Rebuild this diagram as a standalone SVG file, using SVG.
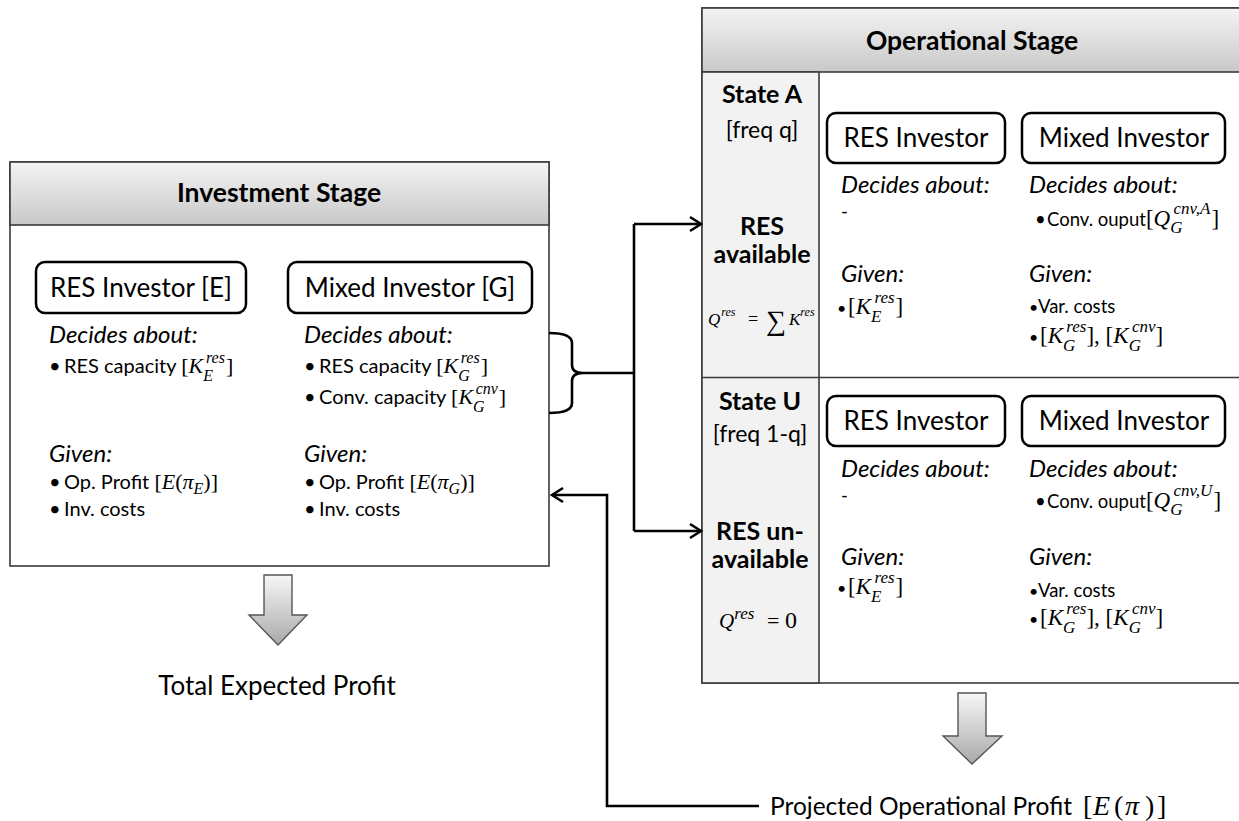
<svg xmlns="http://www.w3.org/2000/svg" width="1239" height="821" viewBox="0 0 1239 821">
<defs>
<linearGradient id="hdr" x1="0" y1="0" x2="0" y2="1">
<stop offset="0" stop-color="#f4f4f4"/><stop offset="1" stop-color="#c8c8c8"/>
</linearGradient>
<linearGradient id="blk" x1="0" y1="0" x2="0" y2="1">
<stop offset="0" stop-color="#f7f7f7"/><stop offset="1" stop-color="#a9a9a9"/>
</linearGradient>
<marker id="ah" viewBox="-13 -9 15 18" refX="0" refY="0" markerWidth="15" markerHeight="18" orient="auto" markerUnits="userSpaceOnUse">
<path d="M-11,-7 L0,0 L-11,7" fill="none" stroke="#000" stroke-width="2.6"/>
</marker>
<style>
text{font-family:Lato,"Liberation Sans",sans-serif;fill:#000}
.h{font-size:26.5px;font-weight:bold;text-anchor:middle}
.inv{font-size:26px;text-anchor:middle}
.it{font-size:24px;font-style:italic}
.b{font-size:20px}
.bo{font-size:18.5px}
.bd{font-size:16px}
.sb{font-size:25px;font-weight:bold;text-anchor:middle}
.fr{font-size:23px;text-anchor:middle}
.m{font-family:"Liberation Serif","DejaVu Serif",serif;font-style:italic;font-size:22px}
.mu{font-family:"Liberation Serif","DejaVu Serif",serif;font-style:normal;font-size:22px}
.ms{font-family:"Liberation Serif","DejaVu Serif",serif;font-style:italic;font-size:16px}
.m2{font-family:"Liberation Serif","DejaVu Serif",serif;font-style:italic;font-size:23px}
.mu2{font-family:"Liberation Serif","DejaVu Serif",serif;font-style:normal;font-size:23px}
.ms2{font-family:"Liberation Serif","DejaVu Serif",serif;font-style:italic;font-size:17px}
.lab{font-size:26px}
.frame{fill:#fff;stroke:#3a3a3a;stroke-width:1.6}
.head{fill:url(#hdr);stroke:#3a3a3a;stroke-width:1.6}
.node{fill:#fff;stroke:#000;stroke-width:2.5}
.conn{fill:none;stroke:#000;stroke-width:2.6}
.barrow{fill:url(#blk);stroke:#555;stroke-width:1.4}
</style>
</defs>

<g id="investment-stage">
<rect class="frame" x="10" y="162" width="539" height="404"/>
<rect class="head" x="10" y="162" width="539" height="63"/>
<text class="h" x="279" y="202">Investment Stage</text>
</g>

<g id="inv-res-investor">
<rect class="node" x="36" y="262" width="210" height="51" rx="9"/>
<text class="inv" x="141" y="297">RES Investor [E]</text>
<text class="it" x="49" y="343">Decides about:</text>
<text class="b" y="373"><tspan x="49">•</tspan><tspan x="64">RES capacity </tspan><tspan class="mu">[</tspan><tspan class="m">K</tspan><tspan class="ms" dy="8">E</tspan><tspan class="ms" dx="-7" dy="-18">res</tspan><tspan class="mu" dx="1" dy="10">]</tspan></text>
<text class="it" x="49" y="462">Given:</text>
<text class="b" y="489"><tspan x="49">•</tspan><tspan x="64">Op. Profit </tspan><tspan class="mu">[</tspan><tspan class="m">E</tspan><tspan class="mu">(</tspan><tspan class="m">π</tspan><tspan class="ms" dy="5">E</tspan><tspan class="mu" dy="-5">)]</tspan></text>
<text class="b" y="516"><tspan x="49">•</tspan><tspan x="64">Inv. costs</tspan></text>
</g>

<g id="inv-mixed-investor">
<rect class="node" x="288" y="262" width="244" height="51" rx="9"/>
<text class="inv" x="410" y="297">Mixed Investor [G]</text>
<text class="it" x="304" y="343">Decides about:</text>
<text class="b" y="373"><tspan x="304">•</tspan><tspan x="319">RES capacity </tspan><tspan class="mu">[</tspan><tspan class="m">K</tspan><tspan class="ms" dy="8">G</tspan><tspan class="ms" dx="-9" dy="-18">res</tspan><tspan class="mu" dx="1" dy="10">]</tspan></text>
<text class="b" y="404"><tspan x="304">•</tspan><tspan x="319">Conv. capacity </tspan><tspan class="mu">[</tspan><tspan class="m">K</tspan><tspan class="ms" dy="8">G</tspan><tspan class="ms" dx="-9" dy="-18">cnv</tspan><tspan class="mu" dx="1" dy="10">]</tspan></text>
<text class="it" x="304" y="462">Given:</text>
<text class="b" y="489"><tspan x="304">•</tspan><tspan x="319">Op. Profit </tspan><tspan class="mu">[</tspan><tspan class="m">E</tspan><tspan class="mu">(</tspan><tspan class="m">π</tspan><tspan class="ms" dy="5">G</tspan><tspan class="mu" dy="-5">)]</tspan></text>
<text class="b" y="516"><tspan x="304">•</tspan><tspan x="319">Inv. costs</tspan></text>
</g>

<g id="total-expected-profit">
<path class="barrow" d="M264,575 L292,575 L292,615 L307,615 L278,645 L249,615 L264,615 Z"/>
<text class="lab" x="277" y="695" text-anchor="middle">Total Expected Profit</text>
</g>

<g id="operational-stage">
<rect class="frame" x="702" y="8" width="545" height="675"/>
<rect class="head" x="702" y="8" width="545" height="64"/>
<rect x="702" y="72" width="117" height="611" fill="#f2f2f2" stroke="#3a3a3a" stroke-width="1.6"/>
<line x1="702" y1="377.5" x2="1247" y2="377.5" stroke="#3a3a3a" stroke-width="1.6"/>
<text class="h" x="972" y="50">Operational Stage</text>
</g>

<g id="state-a">
<text class="sb" x="762" y="103">State A</text>
<text class="fr" x="762" y="138">[freq q]</text>
<text class="sb" x="762" y="235">RES</text>
<text class="sb" x="762" y="263">available</text>
<text class="m" y="325" style="font-size:17px"><tspan x="708">Q</tspan><tspan class="ms" style="font-size:12px" dx="1" dy="-9">res</tspan><tspan class="mu" style="font-size:18px" x="748" dy="9">=</tspan><tspan class="mu" style="font-size:28px" x="766" dy="5">∑</tspan><tspan x="789" dy="-5">K</tspan><tspan class="ms" style="font-size:12px" dx="0" dy="-9">res</tspan></text>
</g>

<g id="a-res-investor">
<rect class="node" x="827" y="113" width="178" height="50" rx="9"/>
<text class="inv" x="916" y="147">RES Investor</text>
<text class="it" x="841" y="193">Decides about:</text>
<text class="bo" x="841" y="218">-</text>
<text class="it" x="841" y="282">Given:</text>
<text class="bd" y="314"><tspan x="837">•</tspan><tspan class="mu2" x="848">[</tspan><tspan class="m2">K</tspan><tspan class="ms2" dy="8">E</tspan><tspan class="ms2" dx="-7" dy="-19">res</tspan><tspan class="mu2" dx="1" dy="11">]</tspan></text>
</g>

<g id="a-mixed-investor">
<rect class="node" x="1022" y="113" width="203" height="50" rx="9"/>
<text class="inv" x="1124" y="147">Mixed Investor</text>
<text class="it" x="1029" y="193">Decides about:</text>
<text class="bo" y="226"><tspan x="1035">•</tspan><tspan x="1047">Conv. ouput</tspan><tspan class="mu2">[</tspan><tspan class="m2">Q</tspan><tspan class="ms2" dy="7">G</tspan><tspan class="ms2" dx="-9" dy="-19">cnv,A</tspan><tspan class="mu2" dx="1" dy="12">]</tspan></text>
<text class="it" x="1029" y="282">Given:</text>
<text class="bo" y="313"><tspan class="bd" x="1029">•</tspan><tspan x="1038">Var. costs</tspan></text>
<text class="bd" y="343"><tspan x="1029">•</tspan><tspan class="mu2" x="1040">[</tspan><tspan class="m2">K</tspan><tspan class="ms2" dy="8">G</tspan><tspan class="ms2" dx="-9" dy="-19">res</tspan><tspan class="mu2" dy="11">], [</tspan><tspan class="m2">K</tspan><tspan class="ms2" dy="8">G</tspan><tspan class="ms2" dx="-9" dy="-19">cnv</tspan><tspan class="mu2" dy="11">]</tspan></text>
</g>

<g id="state-u">
<text class="sb" x="760" y="410">State U</text>
<text class="fr" x="760" y="442">[freq 1-q]</text>
<text class="sb" x="760" y="540">RES un-</text>
<text class="sb" x="760" y="568">available</text>
<text class="m2" y="628" style="font-size:21px"><tspan x="719">Q</tspan><tspan class="ms2" dx="0" dy="-9">res</tspan><tspan class="mu2" style="font-size:22px" x="767" dy="9">=</tspan><tspan class="mu2" style="font-size:24px" x="785">0</tspan></text>
</g>

<g id="u-res-investor">
<rect class="node" x="827" y="396" width="178" height="50" rx="9"/>
<text class="inv" x="916" y="430">RES Investor</text>
<text class="it" x="841" y="477">Decides about:</text>
<text class="bo" x="841" y="502">-</text>
<text class="it" x="841" y="565">Given:</text>
<text class="bd" y="594"><tspan x="837">•</tspan><tspan class="mu2" x="848">[</tspan><tspan class="m2">K</tspan><tspan class="ms2" dy="8">E</tspan><tspan class="ms2" dx="-7" dy="-19">res</tspan><tspan class="mu2" dx="1" dy="11">]</tspan></text>
</g>

<g id="u-mixed-investor">
<rect class="node" x="1022" y="396" width="203" height="50" rx="9"/>
<text class="inv" x="1124" y="430">Mixed Investor</text>
<text class="it" x="1029" y="477">Decides about:</text>
<text class="bo" y="508"><tspan x="1035">•</tspan><tspan x="1047">Conv. ouput</tspan><tspan class="mu2">[</tspan><tspan class="m2">Q</tspan><tspan class="ms2" dy="7">G</tspan><tspan class="ms2" dx="-9" dy="-19">cnv,U</tspan><tspan class="mu2" dx="1" dy="12">]</tspan></text>
<text class="it" x="1029" y="565">Given:</text>
<text class="bo" y="597"><tspan class="bd" x="1029">•</tspan><tspan x="1038">Var. costs</tspan></text>
<text class="bd" y="625"><tspan x="1029">•</tspan><tspan class="mu2" x="1040">[</tspan><tspan class="m2">K</tspan><tspan class="ms2" dy="8">G</tspan><tspan class="ms2" dx="-9" dy="-19">res</tspan><tspan class="mu2" dy="11">], [</tspan><tspan class="m2">K</tspan><tspan class="ms2" dy="8">G</tspan><tspan class="ms2" dx="-9" dy="-19">cnv</tspan><tspan class="mu2" dy="11">]</tspan></text>
</g>

<g id="projected-profit">
<path class="barrow" d="M958,693 L986,693 L986,736 L1002,736 L972,764 L943,736 L958,736 Z"/>
<text class="lab" y="815" style="font-size:24.5px"><tspan x="770">Projected Operational Profit</tspan><tspan class="mu2" style="font-size:28px" x="1083">[</tspan><tspan class="m2" style="font-size:28px" x="1093">E</tspan><tspan class="mu2" style="font-size:28px" x="1114">(</tspan><tspan class="m2" style="font-size:28px" x="1125">π</tspan><tspan class="mu2" style="font-size:28px" x="1145">)</tspan><tspan class="mu2" style="font-size:28px" x="1157">]</tspan></text>
</g>

<g id="connectors">
<path class="conn" d="M549,333 Q572,333 572,343 L572,365 Q572,373 583,373 Q572,373 572,381 L572,403 Q572,413 549,413"/>
<path class="conn" d="M583,373 L634,373"/>
<path class="conn" d="M634,224 L634,531"/>
<path class="conn" d="M634,224 L701,224" marker-end="url(#ah)"/>
<path class="conn" d="M634,531 L701,531" marker-end="url(#ah)"/>
<path class="conn" d="M759,806 L607,806 L607,495 L552,495" marker-end="url(#ah)"/>
</g>
</svg>
